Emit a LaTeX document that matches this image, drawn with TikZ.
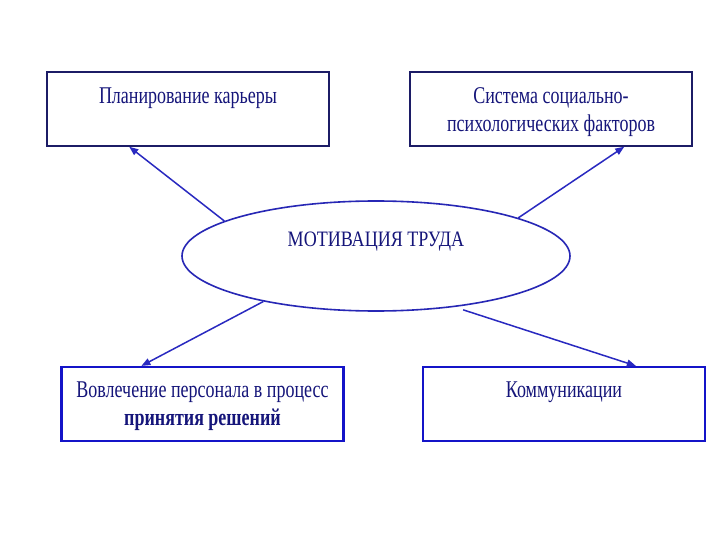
\documentclass[tikz,border=0pt]{standalone}
\usepackage{fontspec}
\setmainfont{Liberation Serif}
\newfontfamily\condf[FakeStretch=0.75]{Liberation Serif}
\newfontfamily\condm[FakeStretch=0.82]{Liberation Serif}
\usetikzlibrary{shapes.geometric,arrows.meta,calc}
\definecolor{navy}{HTML}{1C1C66}
\definecolor{bblue}{HTML}{1414C8}
\definecolor{lblue}{HTML}{2B2BD0}
\definecolor{tblue}{HTML}{15157A}
\tikzset{
  boxtop/.style={draw=navy, line width=1.5pt, minimum width=282pt, minimum height=74pt, inner sep=0pt},
  boxbot/.style={draw=bblue, line width=2.2pt, minimum width=282pt, minimum height=74pt, inner sep=0pt},
  txt/.style={font=\condf\fontsize{24}{28}\selectfont, text=tblue, align=center, inner sep=0pt},
  ell/.style={ellipse, draw=lblue!75!navy, line width=1.6pt, minimum width=388pt, minimum height=110pt, inner sep=0pt},
  conn/.style={draw=lblue!85!navy, line width=1.5pt, -{Triangle[length=9pt,width=7pt]}}
}
\begin{document}
\begin{tikzpicture}[x=1pt,y=-1pt]
\useasboundingbox[fill=white] (0,0) rectangle (720,540);
\node[boxtop, label={[txt, anchor=north, yshift=-16pt]north:Планирование карьеры}] (tl) at (188,109) {};
\node[boxtop, label={[txt, anchor=north, yshift=-16pt]north:Система социально-\\психологических факторов}] (tr) at (551,109) {};
\node[boxbot, label={[txt, anchor=north, yshift=-16pt]north:Вовлечение персонала в процесс\\\textbf{принятия решений}}] (bl) at (202.5,404) {};
\node[boxbot, label={[txt, anchor=north, yshift=-16pt]north:Коммуникации}] (br) at (564,404) {};
\node[ell, label={[txt, font=\condm\fontsize{22}{26}\selectfont, anchor=center, yshift=14pt]center:МОТИВАЦИЯ ТРУДА}] (mot) at (376,256) {};
\draw[conn] (mot.167) -- ($(tl.south west)+(83,0)$);
\draw[conn] (mot.15) -- ($(tr.south west)+(215,0)$);
\draw[conn] (mot.202) -- ($(bl.north west)+(81,0)$);
\draw[conn, shorten <=9pt] (mot.-33) -- ($(br.north west)+(214,0)$);
\end{tikzpicture}
\end{document}
